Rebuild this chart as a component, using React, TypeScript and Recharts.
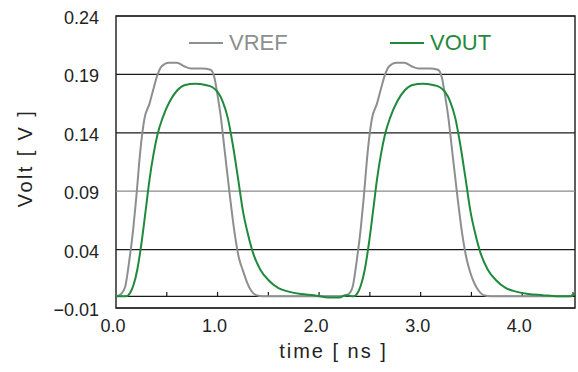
import React from 'react';
import { LineChart, Line, XAxis, YAxis, ReferenceLine, ReferenceArea, Legend, Label } from 'recharts';

const vrefTime = [
  0, 0.05, 0.09, 0.13, 0.17, 0.2, 0.24, 0.28, 0.33, 0.37, 0.41, 0.45, 0.52, 0.6, 0.67, 0.74, 0.85, 0.93, 0.97, 1.0,
  1.03, 1.07, 1.12, 1.17, 1.21, 1.25, 1.29, 1.33, 1.38, 1.45, 2.22,
  2.29, 2.33, 2.37, 2.41, 2.44, 2.48, 2.52, 2.57, 2.61, 2.65, 2.69, 2.76, 2.84, 2.91, 2.98, 3.09, 3.17, 3.21, 3.24,
  3.27, 3.31, 3.36, 3.41, 3.45, 3.49, 3.53, 3.57, 3.62, 3.69, 4.47, 4.52,
];
const vrefVolt = [
  0, 0.002, 0.008, 0.03, 0.058, 0.085, 0.125, 0.152, 0.165, 0.178, 0.19, 0.197, 0.2, 0.2, 0.197, 0.195, 0.195, 0.194, 0.187, 0.172,
  0.155, 0.125, 0.087, 0.053, 0.033, 0.022, 0.012, 0.005, 0.001, 0, 0,
  0.002, 0.008, 0.03, 0.058, 0.085, 0.125, 0.152, 0.165, 0.178, 0.19, 0.197, 0.2, 0.2, 0.197, 0.195, 0.195, 0.194, 0.187, 0.172,
  0.155, 0.125, 0.087, 0.053, 0.033, 0.02, 0.011, 0.005, 0.001, 0, 0, 0.004,
];

const voutTime = [
  0, 0.1, 0.14, 0.17, 0.21, 0.25, 0.29, 0.33, 0.37, 0.41, 0.46, 0.53, 0.6, 0.68, 0.78, 0.88, 0.95, 1.0, 1.05, 1.1,
  1.15, 1.2, 1.25, 1.3, 1.35, 1.42, 1.5, 1.6, 1.7, 1.82, 1.95, 2.1, 2.2, 2.26,
  2.34, 2.38, 2.41, 2.45, 2.49, 2.53, 2.57, 2.61, 2.65, 2.7, 2.77, 2.84, 2.92, 3.02, 3.12, 3.19, 3.24, 3.29, 3.34,
  3.39, 3.44, 3.49, 3.54, 3.59, 3.66, 3.74, 3.84, 3.94, 4.06, 4.2, 4.35, 4.48, 4.52,
];
const voutVolt = [
  0, 0, 0.003, 0.009, 0.023, 0.045, 0.072, 0.1, 0.122, 0.139, 0.153, 0.167, 0.176, 0.181, 0.182, 0.181, 0.179, 0.175, 0.167, 0.153,
  0.13, 0.102, 0.073, 0.053, 0.037, 0.023, 0.014, 0.007, 0.004, 0.002, 0.001, -0.001, -0.001, 0.001,
  0, 0.003, 0.009, 0.023, 0.045, 0.072, 0.1, 0.122, 0.139, 0.153, 0.167, 0.176, 0.181, 0.182, 0.181, 0.179, 0.175, 0.167, 0.153,
  0.13, 0.102, 0.073, 0.053, 0.037, 0.023, 0.014, 0.007, 0.004, 0.002, 0.001, 0, 0, 0.003,
];

const xTicks = [0, 1, 2, 3, 4];
const yTicks = [-0.01, 0.04, 0.09, 0.14, 0.19, 0.24];
const zeroLineTicks = [0.5, 1, 1.5, 2, 2.5, 3, 3.5, 4, 4.5];

const vrefData = vrefTime.map((t, i) => ({ t, v: vrefVolt[i] }));
const voutData = voutTime.map((t, i) => ({ t, v: voutVolt[i] }));

const FONT = '"Liberation Sans", Arial, sans-serif';
const GRAY = '#8b908e';
const GREEN = '#1f8a3c';

const fmtY = (v: number) => (v < 0 ? '\u2212' + Math.abs(v).toFixed(2) : v.toFixed(2));

const YTick = (props: any) => {
  const { x, y, payload } = props;
  return (
    <text x={x} y={y + 2} textAnchor="end" dominantBaseline="central" fontSize={18} fill="#222" fontFamily={FONT}>
      {fmtY(payload.value)}
    </text>
  );
};

const XTick = (props: any) => {
  const { x, y, payload } = props;
  return (
    <text x={x - 3} y={y} textAnchor="middle" dominantBaseline="central" fontSize={18} fill="#222" fontFamily={FONT}>
      {payload.value.toFixed(1)}
    </text>
  );
};

const legendItems = [
  { name: 'VREF', color: GRAY, left: 0 },
  { name: 'VOUT', color: GREEN, left: 201 },
];

const LegendContent = () => (
  <div style={{ position: 'relative', width: 310, height: 26, fontFamily: FONT }}>
    {legendItems.map((it) => (
      <div key={it.name} style={{ position: 'absolute', left: it.left, top: 0, display: 'flex', alignItems: 'center', height: 26 }}>
        <span style={{ display: 'inline-block', width: 34, height: 2, background: it.color, marginRight: 6 }} />
        <span style={{ color: it.color, fontSize: 22, lineHeight: '26px' }}>{it.name}</span>
      </div>
    ))}
  </div>
);

export default function App() {
  return (
    <div style={{ position: 'absolute', left: 0, top: 0, width: 578, height: 372, background: '#fff' }}>
      <LineChart width={578} height={372} margin={{ top: 16, right: 3, bottom: 0, left: 0 }}>
        <XAxis
          type="number"
          dataKey="t"
          domain={[0, 4.52]}
          ticks={xTicks}
          allowDataOverflow
          axisLine={false}
          tickLine={false}
          tickSize={0}
          tickMargin={18}
          height={64}
          tick={<XTick />}
        >
          <Label
            content={(p: any) => {
              const vb = p.viewBox;
              return (
                <text x={vb.x + vb.width / 2 - 12} y={351} textAnchor="middle" dominantBaseline="central" fontSize={20} letterSpacing={2} fill="#222" fontFamily={FONT}>
                  time [ ns ]
                </text>
              );
            }}
          />
        </XAxis>
        <YAxis
          type="number"
          domain={[-0.01, 0.24]}
          ticks={yTicks}
          allowDataOverflow
          axisLine={false}
          tickLine={false}
          tickSize={0}
          tickMargin={17}
          width={116}
          tick={<YTick />}
        >
          <Label
            content={(p: any) => {
              const vb = p.viewBox;
              const cy = vb.y + vb.height / 2 - 4;
              return (
                <text x={25} y={cy} transform={`rotate(-90 25 ${cy})`} textAnchor="middle" dominantBaseline="central" fontSize={20} letterSpacing={2.4} fill="#222" fontFamily={FONT}>
                  Volt [ V ]
                </text>
              );
            }}
          />
        </YAxis>
        {yTicks.map((y) => (
          <ReferenceLine key={'g' + y} y={y} stroke={y === 0.09 ? '#8a8a8a' : '#1a1a1a'} strokeWidth={1.2} />
        ))}
        <ReferenceLine y={0} stroke="#1a1a1a" strokeWidth={1.2} />
        {zeroLineTicks.map((t) => (
          <ReferenceLine key={'zt' + t} segment={[{ x: t, y: 0 }, { x: t, y: 0.0038 }]} stroke="#1a1a1a" strokeWidth={1.2} />
        ))}
        <ReferenceArea x1={0} x2={4.52} y1={-0.01} y2={0.24} fill="none" stroke="#2a2a2a" strokeWidth={1.5} />
        <Line data={vrefData} dataKey="v" type="monotone" stroke={GRAY} strokeWidth={2} dot={false} isAnimationActive={false} name="VREF" />
        <Line data={voutData} dataKey="v" type="monotone" stroke={GREEN} strokeWidth={2} dot={false} isAnimationActive={false} name="VOUT" />
        <Legend
          layout="horizontal"
          verticalAlign="middle"
          align="center"
          content={<LegendContent />}
          wrapperStyle={{ position: 'absolute', top: 30, left: 189, width: 310, height: 26 }}
        />
      </LineChart>
    </div>
  );
}
